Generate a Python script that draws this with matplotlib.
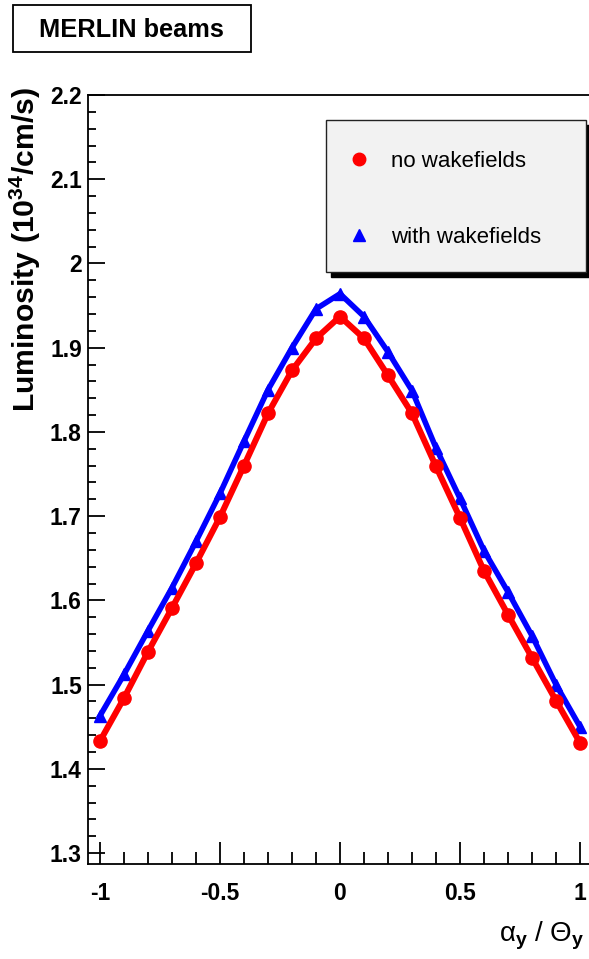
import numpy as np
import matplotlib.pyplot as plt
from matplotlib.patches import Rectangle
from matplotlib.lines import Line2D

plt.rcParams['font.family'] = ['Liberation Sans', 'DejaVu Sans']
plt.rcParams['mathtext.fontset'] = 'custom'
plt.rcParams['mathtext.rm'] = 'Liberation Sans'
plt.rcParams['mathtext.it'] = 'Liberation Sans:italic'
plt.rcParams['mathtext.bf'] = 'Liberation Sans:bold'

# alpha_y / Theta_y scan points
alpha = [-1.0, -0.9, -0.8, -0.7, -0.6, -0.5, -0.4, -0.3, -0.2, -0.1, 0.0,
         0.1, 0.2, 0.3, 0.4, 0.5, 0.6, 0.7, 0.8, 0.9, 1.0]
# luminosity in 10^34 /cm/s
lumi_no_wake = [1.433, 1.484, 1.539, 1.591, 1.644, 1.699, 1.760, 1.822, 1.873, 1.911, 1.937,
                1.911, 1.867, 1.822, 1.759, 1.698, 1.635, 1.583, 1.532, 1.481, 1.431]
lumi_wake = [1.463, 1.512, 1.564, 1.615, 1.670, 1.727, 1.789, 1.850, 1.900, 1.946, 1.964,
             1.937, 1.895, 1.849, 1.781, 1.721, 1.659, 1.610, 1.558, 1.500, 1.450]

W, H = 589, 959
fig = plt.figure(figsize=(W / 100, H / 100), dpi=100)
# axes frame: left 88, right 592, top 95, bottom 864 (pixels)
ax = fig.add_axes([88 / W, 1 - 864 / H, 504 / W, 769 / H])

ax.plot(alpha, lumi_wake, color='blue', lw=4.0, marker='^', ms=8.5, zorder=3)
ax.plot(alpha, lumi_no_wake, color='red', lw=4.4, marker='o', ms=9.5, zorder=4)

ax.set_xlim(-1.05, 1.05)
ax.set_ylim(1.287, 2.2)
ax.set_xticks([-1, -0.5, 0, 0.5, 1])
ax.set_xticklabels(['-1', '-0.5', '0', '0.5', '1'])
ax.set_xticks(np.arange(-1, 1.01, 0.1), minor=True)
ax.set_yticks([1.3, 1.4, 1.5, 1.6, 1.7, 1.8, 1.9, 2.0, 2.1, 2.2])
ax.set_yticklabels(['1.3', '1.4', '1.5', '1.6', '1.7', '1.8', '1.9', '2', '2.1', '2.2'])
ax.set_yticks(np.arange(1.3, 2.201, 0.02), minor=True)

for s in ax.spines.values():
    s.set_linewidth(1.3)
ax.tick_params(axis='both', which='both', direction='in', width=1.3,
               top=False, right=False)
ax.tick_params(axis='x', which='major', length=16, pad=13)
ax.tick_params(axis='x', which='minor', length=9)
ax.tick_params(axis='y', which='major', length=12, pad=4.5)
ax.tick_params(axis='y', which='minor', length=6)
for lab in ax.get_xticklabels() + ax.get_yticklabels():
    lab.set_fontweight('bold')
    lab.set_fontsize(16.5)

fig.text(25 / W, 1 - 250 / H, r'Luminosity (10$^{\mathbf{34}}$/cm/s)',
         rotation=90, ha='center', va='center', fontsize=21.7, fontweight='bold')
fig.text(585 / W, 1 - 936 / H, r'$\mathrm{\alpha}_{\mathbf{y}}$ / $\mathrm{\Theta}_{\mathbf{y}}$',
         ha='right', va='center', fontsize=20)

# title box
fig.patches.append(Rectangle((13 / W, 1 - 52 / H), 238 / W, 47 / H,
                             transform=fig.transFigure, fill=False,
                             lw=1.3, edgecolor='black'))
fig.text(131 / W, 1 - 30 / H, 'MERLIN beams', ha='center', va='center',
         fontsize=18.3, fontweight='bold')

# legend box with shadow
lx0, lx1 = (326 - 88) / 504, (586 - 88) / 504
ly0, ly1 = 1 - (272 - 95) / 769, 1 - (120 - 95) / 769
ax.add_patch(Rectangle((lx0 + 5 / 504, ly0 - 5 / 769), lx1 - lx0, ly1 - ly0,
                       transform=ax.transAxes, facecolor='black',
                       edgecolor='black', zorder=5, clip_on=False))
ax.add_patch(Rectangle((lx0, ly0), lx1 - lx0, ly1 - ly0,
                       transform=ax.transAxes, facecolor='#f2f2f2',
                       edgecolor='#222222', lw=1.0, zorder=6, clip_on=False))
handles = [Line2D([], [], color='red', marker='o', ls='none', ms=9),
           Line2D([], [], color='blue', marker='^', ls='none', ms=8)]
leg = ax.legend(handles, ['no wakefields', 'with wakefields'],
                loc='upper left', bbox_to_anchor=((348 - 88) / 504, 1 - (151 - 95) / 769),
                frameon=False, fontsize=16, handlelength=1.0,
                handletextpad=0.95, labelspacing=2.48, borderpad=0,
                borderaxespad=0)
leg.set_zorder(7)

fig.savefig('out.png', dpi=100)
